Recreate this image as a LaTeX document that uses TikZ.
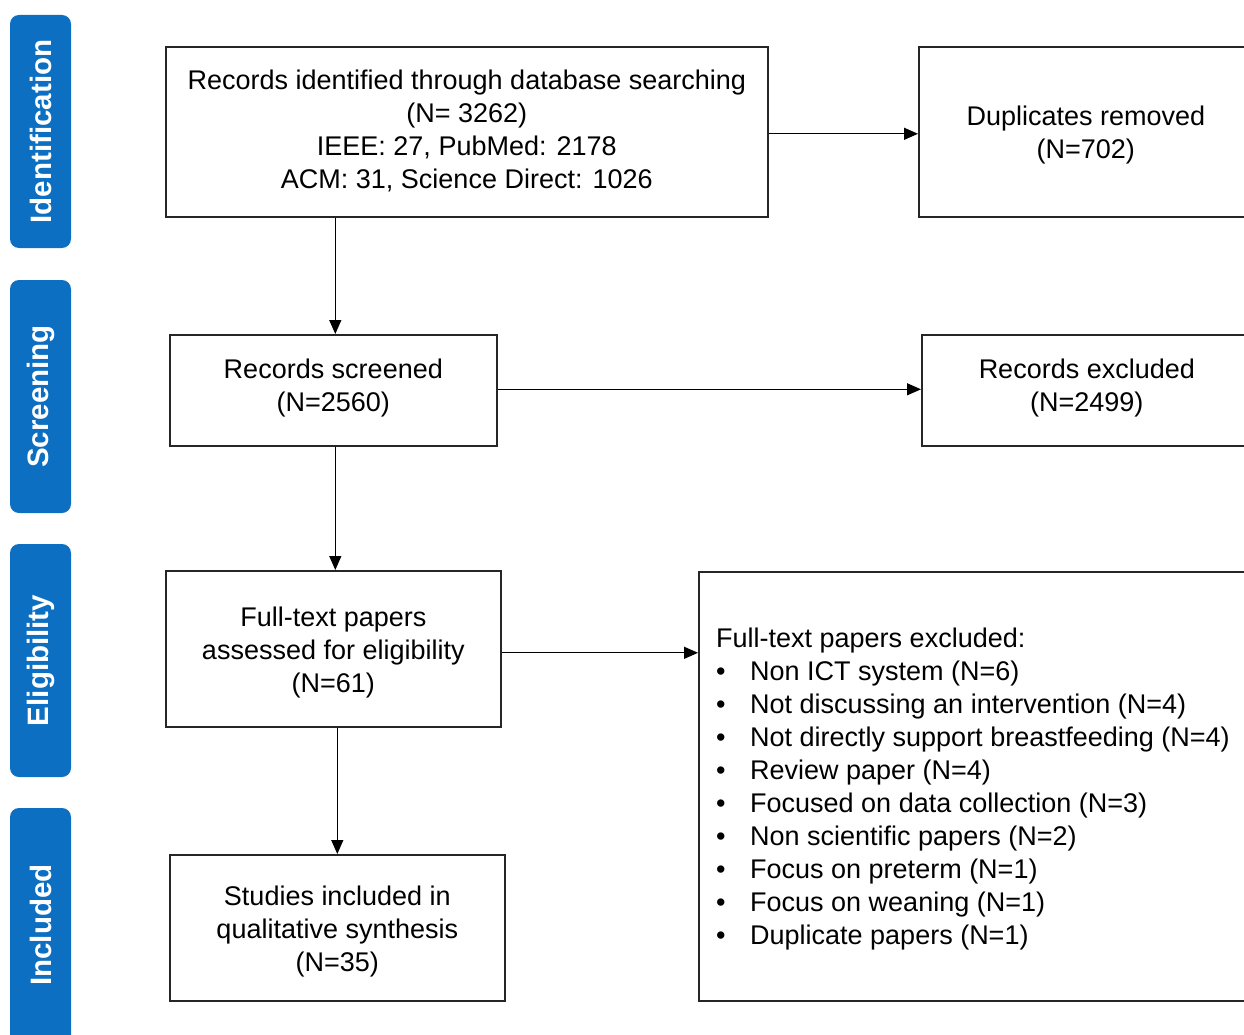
\documentclass[tikz,border=0pt]{standalone}
\usepackage{fontspec}
\setmainfont{Liberation Sans}
\usetikzlibrary{arrows.meta}
\definecolor{tabblue}{RGB}{12,111,194}
\begin{document}
\begin{tikzpicture}[x=1pt,y=-1pt,
 box/.style={draw=black!85, line width=1.6pt, anchor=north west, inner sep=0pt},
 lbl/.style={align=center, inner sep=0pt, font=\fontsize{27}{33}\selectfont},
 tab/.style={fill=tabblue, rounded corners=9pt},
 tablabel/.style={rotate=90, text=white, inner sep=0pt, font=\bfseries\fontsize{29.5}{32}\selectfont},
 flow/.style={line width=1.3pt, -{Triangle[length=14pt,width=12pt]}}]
\useasboundingbox (0,0) rectangle (1244,1035);
\clip (0,0) rectangle (1244,1035);
% phase tabs
\fill[tab] (10,15) rectangle (71,248);
\node[tablabel] (tIdent) at (40.5,131.5) {Identification};
\fill[tab] (10,280) rectangle (71,513);
\node[tablabel] (tScreen) at (40.5,396.5) {Screening};
\fill[tab] (10,544) rectangle (71,777);
\node[tablabel] (tElig) at (40.5,660.5) {Eligibility};
\fill[tab] (10,808) rectangle (71,1070);
\node[tablabel] (tIncl) at (40.5,925) {Included};
% boxes
\node[box, minimum width=602pt, minimum height=170pt,
 label={[lbl, yshift=1pt]center:{Records identified through database searching\\(N= 3262)\\IEEE: 27, PubMed: 2178\\ACM: 31, Science Direct: 1026}}] (ident) at (165,46) {};
\node[box, minimum width=334pt, minimum height=170pt,
 label={[lbl, yshift=-3pt]center:{Duplicates removed\\(N=702)}}] (dup) at (918,46) {};
\node[box, minimum width=327pt, minimum height=111pt,
 label={[lbl, yshift=2pt]center:{Records screened\\(N=2560)}}] (screen) at (169,334) {};
\node[box, minimum width=330pt, minimum height=111pt,
 label={[lbl, yshift=2pt]center:{Records excluded\\(N=2499)}}] (excl) at (921,334) {};
\node[box, minimum width=335pt, minimum height=156pt,
 label={[lbl, yshift=-4pt]center:{Full-text papers\\assessed for eligibility\\(N=61)}}] (full) at (165,570) {};
\node[box, minimum width=600pt, minimum height=429pt,
 label={[lbl, align=left, anchor=west, yshift=-3pt, xshift=18pt]west:{Full-text papers excluded:\\
 \makebox[34pt][l]{•}Non ICT system (N=6)\\
 \makebox[34pt][l]{•}Not discussing an intervention (N=4)\\
 \makebox[34pt][l]{•}Not directly support breastfeeding (N=4)\\
 \makebox[34pt][l]{•}Review paper (N=4)\\
 \makebox[34pt][l]{•}Focused on data collection (N=3)\\
 \makebox[34pt][l]{•}Non scientific papers (N=2)\\
 \makebox[34pt][l]{•}Focus on preterm (N=1)\\
 \makebox[34pt][l]{•}Focus on weaning (N=1)\\
 \makebox[34pt][l]{•}Duplicate papers (N=1)}}] (fullex) at (698,571) {};
\node[box, minimum width=335pt, minimum height=146pt,
 label={[lbl, yshift=-4pt]center:{Studies included in\\qualitative synthesis\\(N=35)}}] (incl) at (169,854) {};
% connectors
\draw[flow] ([yshift=-2pt]ident.east) -- ([yshift=-2pt]ident.east -| dup.west);
\draw[flow] ([yshift=1pt]screen.east) -- ([yshift=1pt]screen.east -| excl.west);
\draw[flow] ([yshift=-4pt]full.east) -- ([yshift=-4pt]full.east -| fullex.west);
\draw[flow] ([xshift=2pt]screen.north |- ident.south) -- ([xshift=2pt]screen.north);
\draw[flow] ([xshift=2pt]full.north |- screen.south) -- ([xshift=2pt]full.north);
\draw[flow] (incl.north |- full.south) -- (incl.north);
\end{tikzpicture}
\end{document}
